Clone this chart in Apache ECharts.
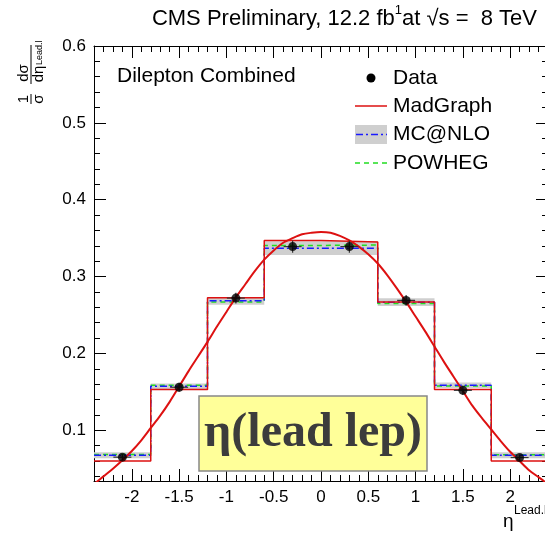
<!DOCTYPE html>
<html><head><meta charset="utf-8">
<script src="https://cdn.jsdelivr.net/npm/echarts@6/dist/echarts.min.js"></script>
<style>html,body{margin:0;padding:0;background:#fff}#c{width:545px;height:545px}</style>
</head><body><div id="c"></div>
<script>
// ---- data ----
const binEdges = [-2.4, -1.8, -1.2, -0.6, 0, 0.6, 1.2, 1.8, 2.4];
const dataX = [-2.1, -1.5, -0.9, -0.3, 0.3, 0.9, 1.5, 2.1];
const dataY = [0.065, 0.156, 0.272, 0.339, 0.339, 0.269, 0.152, 0.0645];
const dataErr = [0.004, 0.006, 0.007, 0.008, 0.008, 0.007, 0.006, 0.004];
const madgraph = [0.060, 0.153, 0.2725, 0.347, 0.345, 0.267, 0.153, 0.060];
const mcnlo = [0.0675, 0.1573, 0.2684, 0.337, 0.337, 0.2667, 0.1586, 0.0675];
const mcnloErr = [0.004, 0.0035, 0.005, 0.009, 0.009, 0.005, 0.0035, 0.004];
const powheg = [0.0684, 0.1586, 0.267, 0.3405, 0.341, 0.265, 0.1577, 0.068];
const fitX = [-2.4,-2.3,-2.2,-2.1,-2.0,-1.9,-1.8,-1.7,-1.6,-1.5,-1.4,-1.3,-1.2,-1.1,-1.0,-0.9,-0.8,-0.7,-0.6,-0.5,-0.4,-0.3,-0.2,-0.1,
              0,0.1,0.2,0.3,0.4,0.5,0.6,0.7,0.8,0.9,1.0,1.1,1.2,1.3,1.4,1.5,1.6,1.7,1.8,1.9,2.0,2.1,2.2,2.3,2.4];
const fitY = [0.030,0.040,0.050,0.061,0.073,0.087,0.103,0.119,0.137,0.157,0.177,0.196,0.215,0.235,0.254,0.273,0.290,0.307,0.322,0.334,0.344,0.350,0.355,0.357,
              0.358,0.357,0.353,0.347,0.339,0.329,0.317,0.302,0.285,0.267,0.248,0.229,0.209,0.189,0.170,0.151,0.132,0.116,0.101,0.086,0.072,0.060,0.048,0.039,0.030];
const xTicks = [-2, -1.5, -1, -0.5, 0, 0.5, 1, 1.5, 2];
const yTicks = [0.1, 0.2, 0.3, 0.4, 0.5, 0.6];
const xRange = [-2.4, 2.4];
const yRange = [0.034, 0.6];

// ---- helpers ----
const FONT = 'Liberation Sans';
function stepData(vals) {
  const d = vals.map((v, i) => [binEdges[i], v]);
  d.push([binEdges[vals.length], vals[vals.length - 1]]);
  return d;
}
function isTick(v, list) { return list.some(t => Math.abs(t - v) < 1e-6); }
function fmtX(v) { return isTick(v, xTicks) ? String(Math.round(v * 10) / 10) : ''; }
function fmtY(v) { return isTick(v, yTicks) ? v.toFixed(1) : ''; }

const chart = echarts.init(document.getElementById('c'), null, {renderer: 'canvas'});

const axisCommon = {
  type: 'value',
  splitLine: {show: false},
  axisLine: {show: true, onZero: false, lineStyle: {color: '#000', width: 1}},
  axisTick: {show: true, inside: true, length: 12, lineStyle: {color: '#000', width: 1}},
  minorTick: {show: true, splitNumber: 5, length: 6, lineStyle: {color: '#000', width: 1}},
  minorSplitLine: {show: false}
};

const option = {
  animation: false,
  backgroundColor: '#fff',
  grid: {left: 94, top: 46, width: 454, height: 435, outerBoundsMode: 'none', containLabel: false},
  xAxis: [
    Object.assign({}, axisCommon, {
      min: xRange[0], max: xRange[1], splitNumber: 10, position: 'bottom',
      axisLabel: {show: true, formatter: fmtX, fontFamily: FONT, fontSize: 17, color: '#000', margin: 8,
                  showMinLabel: true, showMaxLabel: true, hideOverlap: false}
    }),
    Object.assign({}, axisCommon, {
      min: xRange[0], max: xRange[1], splitNumber: 10, position: 'top',
      axisLabel: {show: false}
    })
  ],
  yAxis: [
    Object.assign({}, axisCommon, {
      min: yRange[0], max: yRange[1], splitNumber: 5, position: 'left',
      axisLabel: {show: true, formatter: fmtY, fontFamily: FONT, fontSize: 17, color: '#000', margin: 8,
                  hideOverlap: false}
    }),
    Object.assign({}, axisCommon, {
      min: yRange[0], max: yRange[1], splitNumber: 5, position: 'right',
      axisLabel: {show: false}
    })
  ],
  series: [
    {
      name: 'MC@NLO band', type: 'custom', clip: true, z: 1,
      encode: {x: [0, 1], y: [2, 3]},
      data: mcnlo.map((v, i) => [binEdges[i], binEdges[i + 1], v - mcnloErr[i], v + mcnloErr[i]]),
      renderItem: (params, api) => {
        const p0 = api.coord([api.value(0), api.value(3)]);
        const p1 = api.coord([api.value(1), api.value(2)]);
        return {type: 'rect', shape: {x: p0[0], y: p0[1], width: p1[0] - p0[0], height: p1[1] - p0[1]},
                style: {fill: '#cfcfcf'}};
      }
    },
    {
      name: 'POWHEG', type: 'line', step: 'end', data: stepData(powheg), symbol: 'none', z: 2,
      lineStyle: {color: '#22dd22', width: 1.5, type: [5, 4]}
    },
    {
      name: 'MC@NLO', type: 'line', step: 'end', data: stepData(mcnlo), symbol: 'none', z: 3,
      lineStyle: {color: '#1a1aff', width: 1.5, type: [7, 3, 2, 3]}
    },
    {
      name: 'MadGraph', type: 'line', step: 'end', data: stepData(madgraph), symbol: 'none', z: 4,
      lineStyle: {color: '#dd1111', width: 1.5}
    },
    {
      name: 'fit', type: 'line', data: fitX.map((x, i) => [x, fitY[i]]), symbol: 'none', smooth: 0.3, z: 5,
      lineStyle: {color: '#dd1111', width: 2}
    },
    {
      name: 'errors', type: 'custom', z: 6,
      encode: {x: 0, y: 1},
      data: dataX.map((x, i) => [x, dataY[i], dataErr[i]]),
      renderItem: (params, api) => {
        const c = api.coord([api.value(0), api.value(1)]);
        const lo = api.coord([api.value(0), api.value(1) - api.value(2)]);
        const hi = api.coord([api.value(0), api.value(1) + api.value(2)]);
        const st = {stroke: '#333', lineWidth: 1.2};
        return {type: 'group', children: [
          {type: 'line', shape: {x1: c[0], y1: lo[1], x2: c[0], y2: hi[1]}, style: st},
          {type: 'line', shape: {x1: c[0] - 9, y1: c[1], x2: c[0] + 9, y2: c[1]}, style: st}
        ]};
      }
    },
    {
      name: 'Data', type: 'scatter', data: dataX.map((x, i) => [x, dataY[i]]), symbol: 'circle',
      symbolSize: 9, itemStyle: {color: '#000'}, z: 7
    }
  ],
  graphic: [
    // title
    {type: 'text', x: 537, y: 17, z: 100, style: {
      text: '{a|CMS Preliminary, 12.2 fb}{s|1}{a|at √s =  8 TeV}',
      align: 'right', verticalAlign: 'middle',
      rich: {
        a: {fontFamily: FONT, fontSize: 22, fill: '#000', verticalAlign: 'bottom', lineHeight: 26},
        s: {fontFamily: FONT, fontSize: 13, fill: '#000', verticalAlign: 'top', lineHeight: 26}
      }
    }},
    // y axis title (rotated)
    {type: 'group', x: 31, y: 104, rotation: Math.PI / 2, z: 100, children: [
      {type: 'text', x: 5, y: -7.5, style: {text: '1', fontFamily: FONT, fontSize: 15, fill: '#000', align: 'center', verticalAlign: 'middle'}},
      {type: 'line', shape: {x1: 0, y1: 0, x2: 10, y2: 0}, style: {stroke: '#000', lineWidth: 1}},
      {type: 'text', x: 5, y: 7.5, style: {text: 'σ', fontFamily: FONT, fontSize: 15, fill: '#000', align: 'center', verticalAlign: 'middle'}},
      {type: 'text', x: 31, y: -7.5, style: {text: 'dσ', fontFamily: FONT, fontSize: 15, fill: '#000', align: 'center', verticalAlign: 'middle'}},
      {type: 'line', shape: {x1: 20, y1: 0, x2: 59, y2: 0}, style: {stroke: '#000', lineWidth: 1}},
      {type: 'text', x: 30, y: 7.5, style: {text: 'dη', fontFamily: FONT, fontSize: 15, fill: '#000', align: 'center', verticalAlign: 'middle'}},
      {type: 'text', x: 39, y: 8.5, style: {text: 'Lead.l', fontFamily: FONT, fontSize: 9, fill: '#000', align: 'left', verticalAlign: 'middle'}}
    ]},
    // x axis title
    {type: 'text', x: 503, y: 522, z: 100, style: {text: 'η', fontFamily: FONT, fontSize: 19, fill: '#000', align: 'left', verticalAlign: 'middle'}},
    {type: 'text', x: 514, y: 511, z: 100, style: {text: 'Lead.l', fontFamily: FONT, fontSize: 12, fill: '#000', align: 'left', verticalAlign: 'middle'}},
    // caption
    {type: 'text', x: 117, y: 76, z: 100, style: {text: 'Dilepton Combined', fontFamily: FONT, fontSize: 21, fill: '#000', align: 'left', verticalAlign: 'middle'}},
    // legend
    {type: 'circle', z: 100, shape: {cx: 371, cy: 78, r: 4.5}, style: {fill: '#000'}},
    {type: 'text', x: 393, y: 78, z: 100, style: {text: 'Data', fontFamily: FONT, fontSize: 21, fill: '#000', align: 'left', verticalAlign: 'middle'}},
    {type: 'line', z: 100, shape: {x1: 355, y1: 106, x2: 387, y2: 106}, style: {stroke: '#dd1111', lineWidth: 1.5}},
    {type: 'text', x: 393, y: 106, z: 100, style: {text: 'MadGraph', fontFamily: FONT, fontSize: 21, fill: '#000', align: 'left', verticalAlign: 'middle'}},
    {type: 'rect', z: 100, shape: {x: 355, y: 125, width: 32, height: 19}, style: {fill: '#cfcfcf'}},
    {type: 'line', z: 101, shape: {x1: 356, y1: 134.5, x2: 387, y2: 134.5}, style: {stroke: '#1a1aff', lineWidth: 1.5, lineDash: [7, 3, 2, 3]}},
    {type: 'text', x: 393, y: 134.5, z: 100, style: {text: 'MC@NLO', fontFamily: FONT, fontSize: 21, fill: '#000', align: 'left', verticalAlign: 'middle'}},
    {type: 'line', z: 100, shape: {x1: 355, y1: 163, x2: 387, y2: 163}, style: {stroke: '#22dd22', lineWidth: 1.5, lineDash: [5, 4]}},
    {type: 'text', x: 393, y: 163, z: 100, style: {text: 'POWHEG', fontFamily: FONT, fontSize: 21, fill: '#000', align: 'left', verticalAlign: 'middle'}},
    // yellow label box
    {type: 'rect', z: 100, shape: {x: 199, y: 396, width: 228, height: 75}, style: {fill: '#ffff99', stroke: '#888', lineWidth: 1.5}},
    {type: 'text', x: 313, y: 434, z: 101, style: {text: 'η(lead lep)', fontFamily: 'Liberation Serif', fontWeight: 'bold', fontSize: 48, fill: '#3c3c3c', align: 'center', verticalAlign: 'middle'}}
  ]
};
chart.setOption(option);
</script>
</body></html>
